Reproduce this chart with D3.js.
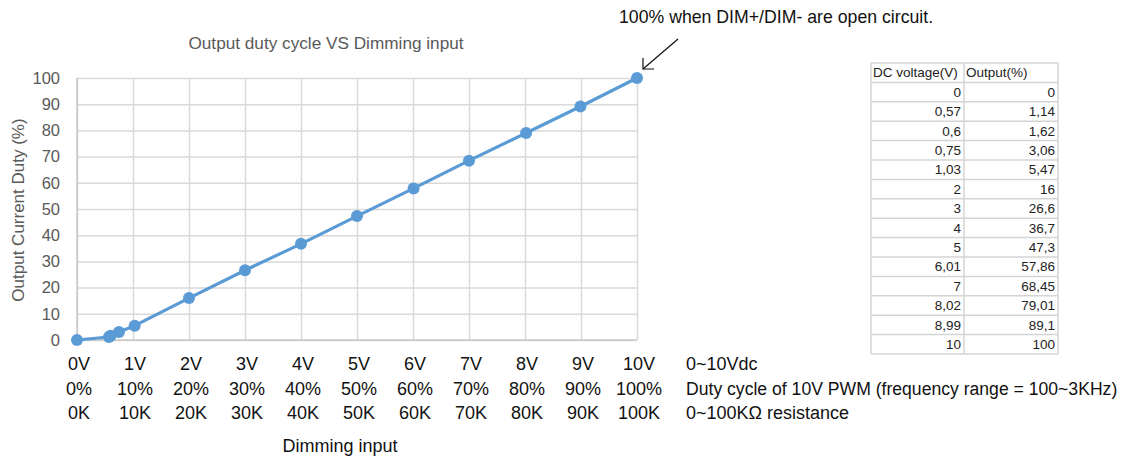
<!DOCTYPE html>
<html>
<head>
<meta charset="utf-8">
<script src="https://cdn.jsdelivr.net/npm/d3@7"></script>
<style>
  body { margin: 0; background: #fff; }
  svg { display: block; }
  .narrow { font-family: "Liberation Sans Narrow", "Arial Narrow", "Liberation Sans", sans-serif; }
</style>
</head>
<body>
<div id="chart"></div>
<script>
// data
const voltage = [0, 0.57, 0.6, 0.75, 1.03, 2, 3, 4, 5, 6.01, 7, 8.02, 8.99, 10]
const output = [0, 1.14, 1.62, 3.06, 5.47, 16, 26.6, 36.7, 47.3, 57.86, 68.45, 79.01, 89.1, 100]

const xTicks = [0, 1, 2, 3, 4, 5, 6, 7, 8, 9, 10]
const voltLabels = ['0V', '1V', '2V', '3V', '4V', '5V', '6V', '7V', '8V', '9V', '10V']
const pwmLabels = ['0%', '10%', '20%', '30%', '40%', '50%', '60%', '70%', '80%', '90%', '100%']
const resLabels = ['0K', '10K', '20K', '30K', '40K', '50K', '60K', '70K', '80K', '90K', '100K']
const rowNotes = ['0~10Vdc', 'Duty cycle of 10V PWM (frequency range = 100~3KHz)', '0~100K\u03A9 resistance']
const tableHeader = ['DC voltage(V)', 'Output(%)']

const width = 1122
const height = 462

const svg = d3.select('#chart').append('svg')
  .attr('width', width)
  .attr('height', height)

const x = d3.scaleLinear().domain([0, 10]).range([77, 637])
const y = d3.scaleLinear().domain([0, 100]).range([340, 78])

const gridColor = '#d9d9d9'

// horizontal grid + y labels
const yAxis = svg.append('g')
  .attr('transform', 'translate(' + x(0) + ',0)')
  .call(d3.axisLeft(y).tickValues(d3.range(0, 101, 10)).tickSize(-(x(10) - x(0))).tickPadding(17))
yAxis.select('.domain').remove()
yAxis.selectAll('.tick line').attr('stroke', gridColor).attr('stroke-width', 1.5)
yAxis.selectAll('.tick text')
  .attr('class', 'narrow')
  .attr('font-size', 16.5)
  .attr('fill', '#595959')

// vertical grid
const xAxis = svg.append('g')
  .attr('transform', 'translate(0,' + y(0) + ')')
  .call(d3.axisBottom(x).tickValues(xTicks).tickSize(-(y(0) - y(100))).tickFormat(''))
xAxis.select('.domain').remove()
xAxis.selectAll('.tick line').attr('stroke', gridColor).attr('stroke-width', 1.5)

// axis lines
svg.append('line')
  .attr('x1', x(0)).attr('x2', x(10))
  .attr('y1', y(0)).attr('y2', y(0))
  .attr('stroke', '#c8c8c8').attr('stroke-width', 1.5)
svg.append('line')
  .attr('x1', x(0)).attr('x2', x(0))
  .attr('y1', y(0)).attr('y2', y(100))
  .attr('stroke', '#c8c8c8').attr('stroke-width', 1.5)

// three rows of x labels
const labelRows = [voltLabels, pwmLabels, resLabels]
const rowY = [370, 395, 419]
labelRows.forEach((labels, i) => {
  svg.append('g').selectAll('text')
    .data(xTicks)
    .join('text')
    .attr('class', 'narrow')
    .attr('x', d => x(d) + 2)
    .attr('y', rowY[i])
    .attr('text-anchor', 'middle')
    .attr('font-size', 18)
    .attr('fill', '#111')
    .text((d, j) => labels[j])
  svg.append('text')
    .attr('class', 'narrow')
    .attr('x', 686)
    .attr('y', rowY[i])
    .attr('font-size', i === 1 ? 17.6 : 18)
    .attr('fill', '#111')
    .text(rowNotes[i])
})

svg.append('text')
  .attr('class', 'narrow')
  .attr('x', 340)
  .attr('y', 452)
  .attr('text-anchor', 'middle')
  .attr('font-size', 18)
  .attr('fill', '#111')
  .text('Dimming input')

// title and y title
svg.append('text')
  .attr('class', 'narrow')
  .attr('x', 326)
  .attr('y', 49)
  .attr('text-anchor', 'middle')
  .attr('font-size', 17.2)
  .attr('fill', '#595959')
  .text('Output duty cycle VS Dimming input')

svg.append('text')
  .attr('class', 'narrow')
  .attr('transform', 'translate(24,210) rotate(-90)')
  .attr('text-anchor', 'middle')
  .attr('font-size', 17)
  .attr('fill', '#595959')
  .text('Output Current Duty (%)')

// series
const pts = voltage.map((v, i) => [v, output[i]])
svg.append('path')
  .datum(pts)
  .attr('fill', 'none')
  .attr('stroke', '#5b9bd5')
  .attr('stroke-width', 3.2)
  .attr('stroke-linejoin', 'round')
  .attr('d', d3.line().x(d => x(d[0])).y(d => y(d[1])))
svg.append('g').selectAll('circle')
  .data(pts)
  .join('circle')
  .attr('cx', d => x(d[0]))
  .attr('cy', d => y(d[1]))
  .attr('r', 6)
  .attr('fill', '#5b9bd5')

// annotation
svg.append('text')
  .attr('class', 'narrow')
  .attr('x', 619)
  .attr('y', 23)
  .attr('font-size', 17.7)
  .attr('fill', '#111')
  .text('100% when DIM+/DIM- are open circuit.')
svg.append('line')
  .attr('x1', 678).attr('y1', 39).attr('x2', 643).attr('y2', 69)
  .attr('stroke', '#111').attr('stroke-width', 1.2)
svg.append('path')
  .attr('d', 'M643,58 L643,69 L654,69')
  .attr('fill', 'none')
  .attr('stroke', '#111').attr('stroke-width', 1.2)

// table
const tx = [871, 964, 1058]
const rowH = 19.4
const tTop = 63
const tbl = svg.append('g').attr('class', 'narrow')
const nRows = voltage.length + 1
for (let r = 0; r <= nRows; r++) {
  tbl.append('line')
    .attr('x1', tx[0]).attr('x2', tx[2])
    .attr('y1', tTop + r * rowH).attr('y2', tTop + r * rowH)
    .attr('stroke', '#d4d4d4').attr('stroke-width', 1.5)
}
tx.forEach(cx => {
  tbl.append('line')
    .attr('x1', cx).attr('x2', cx)
    .attr('y1', tTop).attr('y2', tTop + nRows * rowH)
    .attr('stroke', '#d4d4d4').attr('stroke-width', 1.5)
})
tableHeader.forEach((h, i) => {
  tbl.append('text')
    .attr('x', tx[i] + 2)
    .attr('y', tTop + rowH - 5)
    .attr('font-size', 13.5)
    .attr('fill', '#222')
    .text(h)
})
const fmt = v => String(v).replace('.', ',')
tbl.selectAll('text.v')
  .data(voltage)
  .join('text')
  .attr('class', 'v')
  .attr('x', tx[1] - 3)
  .attr('y', (d, i) => tTop + (i + 2) * rowH - 5)
  .attr('text-anchor', 'end')
  .attr('font-size', 13.5)
  .attr('fill', '#222')
  .text(fmt)
tbl.selectAll('text.o')
  .data(output)
  .join('text')
  .attr('class', 'o')
  .attr('x', tx[2] - 3)
  .attr('y', (d, i) => tTop + (i + 2) * rowH - 5)
  .attr('text-anchor', 'end')
  .attr('font-size', 13.5)
  .attr('fill', '#222')
  .text(fmt)
</script>
</body>
</html>
